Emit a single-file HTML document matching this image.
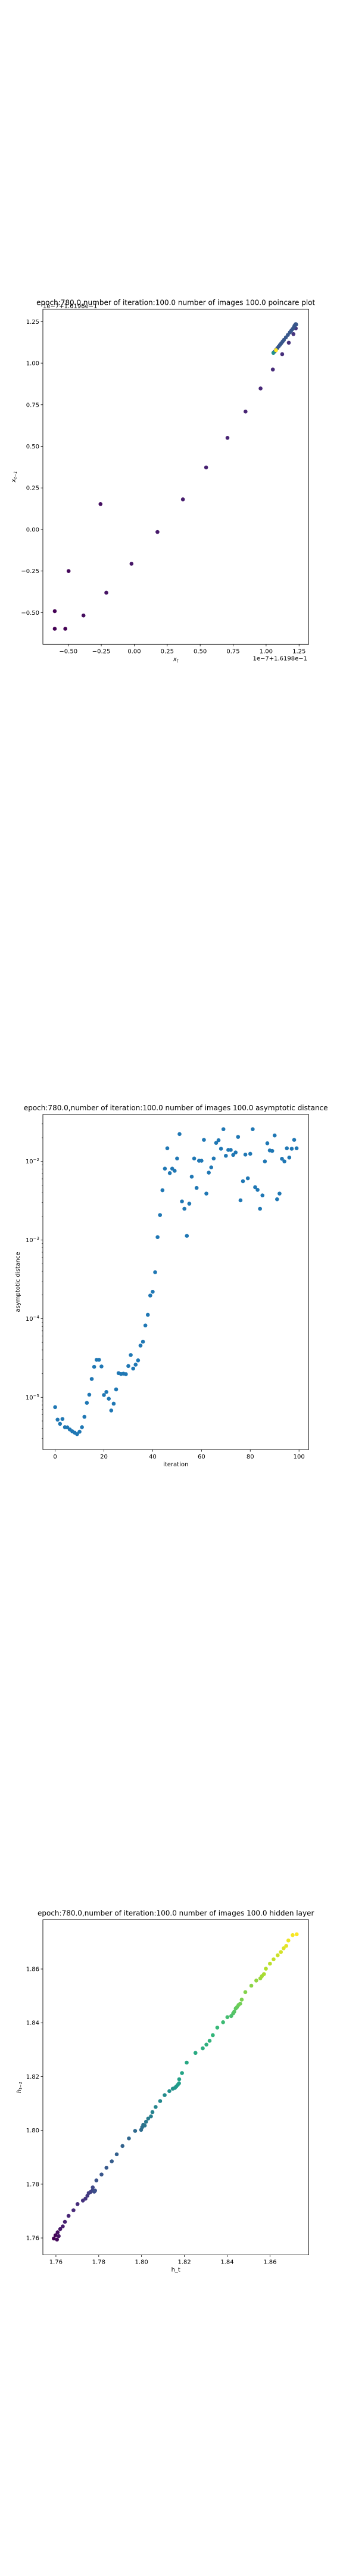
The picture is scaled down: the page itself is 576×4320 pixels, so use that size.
<!DOCTYPE html>
<html><head><meta charset="utf-8"><style>
html,body{margin:0;padding:0;background:#fff;}
svg{display:block;font-family:"DejaVu Sans","Liberation Sans",sans-serif;}
</style></head><body>
<svg id="fig" width="576" height="4320" viewBox="0 0 576 4320" xmlns="http://www.w3.org/2000/svg"></svg>
<script>
// ---------- Chart 1: poincare plot ----------
const p1x = [-0.603,-0.523,-0.603,-0.498,-0.385,-0.256,-0.212,-0.021,0.176,0.369,0.545,0.707,0.844,0.958,1.051,1.122,1.172,1.207,1.225,
  1.065,1.075,1.085,1.095,1.105,1.115,1.125,1.135,1.15,1.165,1.18,1.19,1.2,1.21,1.215,1.22,1.225,1.228,1.055,1.075];
const p1y = [-0.597,-0.597,-0.491,-0.250,-0.517,0.153,-0.380,-0.206,-0.015,0.181,0.373,0.551,0.709,0.848,0.962,1.054,1.123,1.175,1.209,
  1.07,1.08,1.09,1.10,1.11,1.12,1.13,1.14,1.155,1.17,1.185,1.195,1.205,1.215,1.225,1.23,1.235,1.232,1.062,1.078];
const p1c = [0,0,0,0.02,0.03,0.04,0.05,0.06,0.07,0.08,0.09,0.1,0.1,0.11,0.12,0.13,0.14,0.15,0.16,
  0.27,0.27,0.27,0.27,0.27,0.27,0.27,0.27,0.27,0.27,0.27,0.27,0.27,0.27,0.27,0.27,0.27,0.27,0.5,1.0];
const p1xticks = [-0.5,-0.25,0,0.25,0.5,0.75,1.0,1.25];
const p1xlabels = ["\u22120.50","\u22120.25","0.00","0.25","0.50","0.75","1.00","1.25"];
const p1yticks = [-0.5,-0.25,0,0.25,0.5,0.75,1.0,1.25];
const p1ylabels = ["\u22120.50","\u22120.25","0.00","0.25","0.50","0.75","1.00","1.25"];

// ---------- Chart 2: asymptotic distance ----------
const p2vals = [7.5e-6,5.2e-6,4.6e-6,5.3e-6,4.17e-6,4.15e-6,3.9e-6,3.7e-6,3.55e-6,3.4e-6,
  3.65e-6,4.17e-6,5.65e-6,8.5e-6,1.08e-5,1.71e-5,2.44e-5,3.0e-5,3.0e-5,2.47e-5,
  1.07e-5,1.17e-5,9.6e-6,6.8e-6,8.3e-6,1.26e-5,2.03e-5,1.98e-5,2.0e-5,1.97e-5,
  2.5e-5,3.45e-5,2.32e-5,2.6e-5,2.95e-5,4.55e-5,5.1e-5,8.2e-5,1.12e-4,1.97e-4,
  2.2e-4,3.9e-4,1.09e-3,2.08e-3,4.3e-3,8.1e-3,1.47e-2,7.1e-3,8.1e-3,7.6e-3,
  1.09e-2,2.23e-2,3.1e-3,2.5e-3,1.13e-3,2.9e-3,6.4e-3,1.09e-2,4.6e-3,1.02e-2,
  1.02e-2,1.88e-2,3.9e-3,7.2e-3,8.4e-3,1.09e-2,1.72e-2,1.86e-2,1.45e-2,2.57e-2,
  1.18e-2,1.4e-2,1.4e-2,1.21e-2,1.3e-2,2.05e-2,3.2e-3,5.6e-3,1.22e-2,6.1e-3,
  1.25e-2,2.57e-2,4.7e-3,4.35e-3,2.5e-3,3.7e-3,1.0e-2,1.7e-2,1.38e-2,1.36e-2,
  2.14e-2,3.3e-3,3.9e-3,1.08e-2,1.0e-2,1.47e-2,1.12e-2,1.45e-2,1.88e-2,1.47e-2];
const p2xticks = [0,20,40,60,80,100];
const p2ydecades = [-5,-4,-3,-2];

// ---------- Chart 3: hidden layer ----------
const p3px = [247,255,262,265,270,277,288,298,315,337,356,380,392,400,406,415,424,425,432,436,441,465,487,512,534,561,590,618,645,650,655,662,668,678,690,697,712,732,753,774,790,800,806,812,818,819,832,853,893,927,943,958,972,993,1019,1039,1056,1065,1070,1077,1083,1090,1097,1104,1121,1148,1171,1189,1196,1206,1214,1233,1250,1268,1283,1295,1307,1317,1336,1355];
const p3py = [1408,1395,1412,1383,1398,1371,1360,1342,1318,1296,1271,1257,1250,1238,1227,1223,1216,1205,1222,1217,1177,1153,1126,1101,1073,1040,1010,980,975,965,955,958,943,930,922,905,884,861,837,821,812,808,803,797,790,774,750,708,669,651,636,621,598,569,547,527,522,512,505,492,487,478,473,457,427,401,381,373,364,355,334,314,296,280,267,252,243,221,200,197];
const p3x = p3px.map(v => +(1.76 + (v - 257) / 9760).toFixed(4));
const p3y = p3py.map(v => +(1.76 + (1406 - v) / 10710).toFixed(4));
const p3ticks = [1.76,1.78,1.80,1.82,1.84,1.86];
const p3labels = ["1.76","1.78","1.80","1.82","1.84","1.86"];

const NS = "http://www.w3.org/2000/svg";
const fig = document.getElementById("fig");
function mk(tag, attrs, parent){ const e=document.createElementNS(NS,tag); for(const k in attrs) e.setAttribute(k,attrs[k]); (parent||fig).appendChild(e); return e; }
const VIR = [[68,1,84],[72,40,120],[62,74,137],[49,104,142],[38,130,142],[31,158,137],[53,183,121],[110,206,88],[181,222,43],[253,231,37]];
function viridis(t){ t=Math.max(0,Math.min(1,t)); const f=t*(VIR.length-1); const i=Math.min(VIR.length-2,Math.floor(f)); const u=f-i;
  const c=VIR[i].map((v,k)=>Math.round(v+(VIR[i+1][k]-v)*u)); return `rgb(${c[0]},${c[1]},${c[2]})`; }

const L=72, R=518.4, H=562;
function frame(g, top){ mk("rect",{x:L,y:top,width:R-L,height:H,fill:"none",stroke:"#000","stroke-width":0.9},g); }
function title(g, top, txt, name){ const t=mk("text",{x:(L+R)/2,y:top-7,"text-anchor":"middle","font-size":12,fill:"#000"},g); t.textContent=txt;
    }
function xtick(g, top, px, lab){ mk("line",{x1:px,x2:px,y1:top+H,y2:top+H+3.5,stroke:"#000","stroke-width":0.8},g);
  const t=mk("text",{x:px,y:top+H+15,"text-anchor":"middle","font-size":10,fill:"#000"},g); t.textContent=lab; return t; }
function ytick(g, py, lab){ mk("line",{x1:L-3.5,x2:L,y1:py,y2:py,stroke:"#000","stroke-width":0.8},g);
  const t=mk("text",{x:L-6,y:py+3.5,"text-anchor":"end","font-size":10,fill:"#000"},g); t.textContent=lab; return t; }

// ===== Chart 1 =====
(function(){
  const top=518.4;
  const g=mk("g",{});
  
  
  const x0=-0.693,x1=1.323,y0=-0.69,y1=1.325;
  const sx=v=>L+(v-x0)/(x1-x0)*(R-L), sy=v=>top+H-(v-y0)/(y1-y0)*H;
  title(g,top,"epoch:780.0,number of iteration:100.0 number of images 100.0 poincare plot","chart-title");
  const off=mk("text",{x:L,y:top-2,"font-size":10,fill:"#000"},g); off.textContent="1e\u22127+1.6198e\u22121";
   
  p1xticks.forEach((v,i)=>{ const t=xtick(g,top,sx(v),p1xlabels[i]);   });
  p1yticks.forEach((v,i)=>{ const t=ytick(g,sy(v),p1ylabels[i]);   });
  const off2=mk("text",{x:516,y:top+H+27,"text-anchor":"end","font-size":10,fill:"#000"},g); off2.textContent="1e\u22127+1.6198e\u22121";
   
  const xl=mk("text",{x:(L+R)/2,y:top+H+28,"text-anchor":"middle","font-size":10,"font-style":"italic",fill:"#000"},g);
  xl.innerHTML='x<tspan font-size="7" dy="2">t</tspan>';
   
  const yl=mk("text",{x:0,y:0,"text-anchor":"middle","font-size":10,"font-style":"italic",fill:"#000",transform:`translate(26,${top+H/2}) rotate(-90)`},g);
  yl.innerHTML='x<tspan font-size="7" dy="2">t\u22121</tspan>';
   
  p1x.forEach((v,i)=>{ const c=mk("circle",{cx:sx(v),cy:sy(p1y[i]),r:3.3,fill:viridis(p1c[i])},g);
      });
  frame(g,top);
})();

// ===== Chart 2 =====
(function(){
  const top=1869;
  const g=mk("g",{});
  
  
  const x0=-5.03,x1=103.96,l0=-5.665,l1=-1.403;
  const sx=v=>L+(v-x0)/(x1-x0)*(R-L), sy=v=>top+H-(Math.log10(v)-l0)/(l1-l0)*H;
  title(g,top,"epoch:780.0,number of iteration:100.0  number of images 100.0 asymptotic distance","chart-title");
  p2xticks.forEach(v=>{ const t=xtick(g,top,sx(v),String(v));   });
  p2ydecades.forEach(d=>{ const py=sy(Math.pow(10,d));
    mk("line",{x1:L-3.5,x2:L,y1:py,y2:py,stroke:"#000","stroke-width":0.8},g);
    const t=mk("text",{x:L-6,y:py+3.5,"text-anchor":"end","font-size":10,fill:"#000"},g);
    t.innerHTML='10<tspan font-size="7" dy="-4">\u2212'+(-d)+'</tspan>';
     
  });
  for(let d=-6; d<=-2; d++){ for(let m=2;m<=9;m++){ const v=m*Math.pow(10,d); const lv=Math.log10(v);
    if(lv<l0||lv>l1) continue; const py=sy(v); mk("line",{x1:L-2,x2:L,y1:py,y2:py,stroke:"#000","stroke-width":0.6},g); } }
  const xl=mk("text",{x:(L+R)/2,y:top+H+28,"text-anchor":"middle","font-size":10,fill:"#000"},g); xl.textContent="iteration";
   
  const yl=mk("text",{x:0,y:0,"text-anchor":"middle","font-size":10,fill:"#000",transform:`translate(33,${top+H/2}) rotate(-90)`},g); yl.textContent="asymptotic distance";
   
  p2vals.forEach((v,i)=>{ const c=mk("circle",{cx:sx(i),cy:sy(v),r:3.3,fill:"#1f77b4"},g);
      });
  frame(g,top);
})();

// ===== Chart 3 =====
(function(){
  const top=3219.5;
  const g=mk("g",{});
  
  
  const x0=1.7539,x1=1.8781,y0=1.7537,y1=1.8783;
  const sx=v=>L+(v-x0)/(x1-x0)*(R-L), sy=v=>top+H-(v-y0)/(y1-y0)*H;
  title(g,top,"epoch:780.0,number of iteration:100.0  number of images 100.0 hidden layer","chart-title");
  p3ticks.forEach((v,i)=>{ const t=xtick(g,top,sx(v),p3labels[i]);  
    const t2=ytick(g,sy(v),p3labels[i]);   });
  const xl=mk("text",{x:(L+R)/2,y:top+H+28,"text-anchor":"middle","font-size":10,fill:"#000"},g); xl.textContent="h_t";
   
  const yl=mk("text",{x:0,y:0,"text-anchor":"middle","font-size":10,"font-style":"italic",fill:"#000",transform:`translate(35,${top+H/2}) rotate(-90)`},g);
  yl.innerHTML='h<tspan font-size="7" dy="2">t\u22121</tspan>';
   
  const n=p3x.length;
  p3x.forEach((v,i)=>{ const c=mk("circle",{cx:sx(v),cy:sy(p3y[i]),r:3.3,fill:viridis(i/(n-1))},g);
      });
  frame(g,top);
})();
</script>
</body></html>
